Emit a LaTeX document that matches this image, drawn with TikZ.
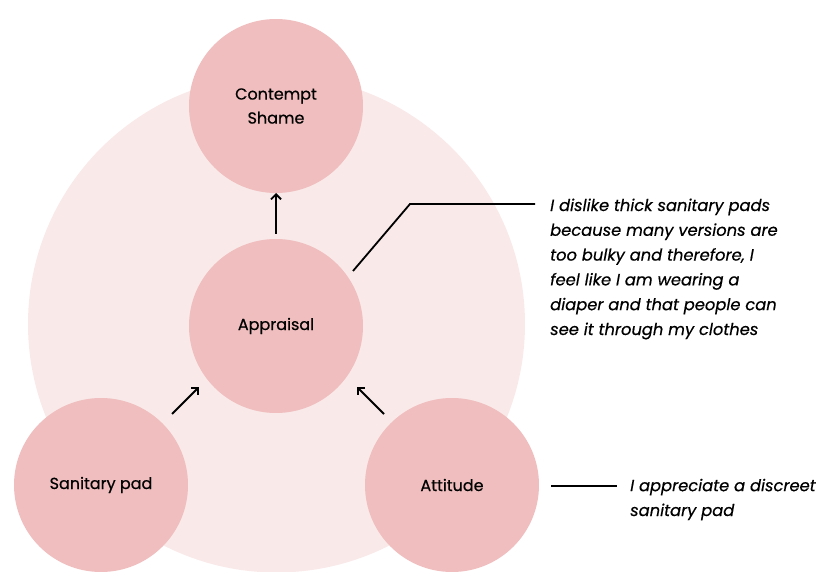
\documentclass[tikz,border=0pt]{standalone}
\usepackage{fontspec}
\setmainfont{Poppins}[FakeBold=0.5]
\usetikzlibrary{arrows.meta}
\definecolor{haze}{HTML}{F9E9E9}
\definecolor{rose}{HTML}{F0BEBE}
\tikzset{
  concept/.style={circle, fill=rose, minimum size=174pt, inner sep=0pt, align=center,
    font=\fontsize{16}{24}\selectfont, text=black},
  link/.style={draw=black, line width=1.8pt, -{Straight Barb[length=5pt, width=10pt, line width=1.8pt]}},
  callout/.style={draw=black, line width=1.8pt},
  quote/.style={anchor=base west, inner sep=0pt, align=left,
    font=\fontsize{16.3}{24.8}\selectfont\itshape}
}
\begin{document}
\begin{tikzpicture}[x=1pt, y=-1pt]
  \useasboundingbox (0,0) rectangle (820,572);
  % background field
  \begin{scope}
    \clip (0,0) rectangle (820,572);
    \fill[haze] (276.5,324) circle[radius=248.5];
  \end{scope}
  % concepts
  \node[concept] (emotion) at (276,106) {Contempt\\Shame};
  \node[concept] (appraisal) at (276,326) {Appraisal};
  \node[concept] (pad) at (101,485) {Sanitary pad};
  \node[concept] (attitude) at (452,485) {Attitude};
  % arrows
  \coordinate (a1s) at (276,234); \coordinate (a1e) at (276,193);
  \coordinate (a2s) at (172,414); \coordinate (a2e) at (199,387);
  \coordinate (a3s) at (384,414); \coordinate (a3e) at (357,387);
  \draw[link] (a1s) -- (a1e);
  \draw[link] (a2s) -- (a2e);
  \draw[link] (a3s) -- (a3e);
  % quotes (base anchor sits on the last line)
  \coordinate (c1a) at (353,271); \coordinate (c1b) at (410,204); \coordinate (c1c) at (535,204);
  \draw[callout] (c1a) -- (c1b) -- (c1c);
  \node[quote] (q1) at (550,335) {I dislike thick sanitary pads\\because many versions are\\too bulky and therefore, I\\feel like I am wearing a\\diaper and that people can\\see it through my clothes};
  \coordinate (c2a) at (551,486); \coordinate (c2b) at (617,486);
  \draw[callout] (c2a) -- (c2b);
  \node[quote] (q2) at (630,516) {I appreciate a discreet\\sanitary pad};
\end{tikzpicture}
\end{document}
